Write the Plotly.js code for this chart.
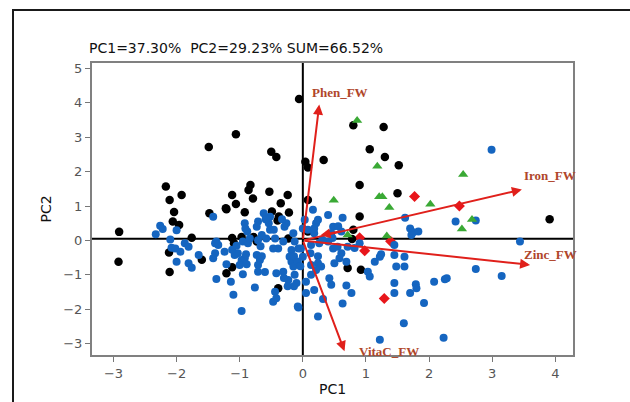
<!DOCTYPE html>
<html>
<head>
<meta charset="utf-8">
<script src="https://cdn.plot.ly/plotly-3.0.1.min.js"></script>
<style>
html,body{margin:0;padding:0;background:#fff;}
#wrap{position:relative;width:630px;height:402px;overflow:hidden;}
#chart{position:absolute;left:0;top:0;width:630px;height:402px;}
#frame{position:absolute;left:12px;top:9px;width:700px;height:500px;border:2px solid #1a1a1a;pointer-events:none;}
</style>
</head>
<body>
<div id="wrap"><div id="chart"></div><div id="frame"></div></div>
<script>
// ---- data ----
const blueX = [-2.26,-2.22,-2.33,-2.00,-2.10,-2.08,-2.02,-1.94,-1.87,-1.81,-2.00,-1.81,-1.76,
 -1.42,-0.92,-0.91,-0.71,-0.73,-0.52,-0.54,-0.52,-0.29,-0.26,-0.15,-1.37,-1.34,-1.39,-0.95,-0.87,-0.84,-0.71,-0.58,-0.44,-0.39,-0.47,-0.31,-0.13,-0.07,-0.18,
 -1.24,-1.39,-1.42,-1.08,-1.03,-0.97,-0.92,-1.00,-0.89,-0.73,-0.68,-0.71,-1.21,-1.65,-1.37,-1.14,-0.95,-0.71,-0.60,-0.42,-0.31,-0.21,-0.18,-0.15,-0.13,-0.23,-0.10,
 -0.76,-0.44,-0.47,-0.42,-1.10,-0.97,-0.07,
 -1.12,-1.05,-0.90,-0.88,-0.62,-0.59,-0.65,-0.67,-0.65,-0.46,-0.33,-0.14,-0.08,-0.04,-0.30,-0.14,-0.24,
 0.16,0.40,0.63,0.03,0.21,0.00,0.08,0.18,0.48,0.61,0.45,0.13,0.26,0.40,0.48,0.55,0.71,0.61,0.58,0.69,-0.03,0.00,0.13,0.24,0.29,0.21,0.13,0.42,0.45,0.05,0.05,0.18,0.32,0.69,0.77,0.63,0.24,
 0.90,1.14,1.22,1.24,1.03,1.06,1.45,1.45,1.48,1.61,1.45,1.45,1.61,1.22,1.60,-0.08,
 0.24,0.18,0.31,0.47,0.56,0.12,0.24,0.50,0.82,
 1.62,1.70,1.75,1.83,1.72,2.42,2.74,3.44,2.74,3.15,2.28,2.25,2.08,1.79,1.80,1.70,1.92,2.23,2.99];
const blueY = [0.43,0.33,0.18,0.30,0.03,-0.21,-0.23,-0.33,-0.08,-0.18,-0.62,-0.66,-0.79,
 0.69,0.50,0.35,0.55,0.40,0.69,0.50,0.31,0.40,0.50,0.21,-0.03,-0.13,-0.08,-0.03,-0.08,0.06,0.01,0.06,0.06,-0.23,-0.23,-0.03,-0.03,-0.23,-0.28,
 -0.33,-0.37,-0.52,-0.42,-0.37,-0.57,-0.52,-0.71,-0.69,-0.42,-0.57,-0.71,-0.69,-0.42,-1.12,-1.20,-0.98,-0.91,-0.92,-0.95,-0.91,-0.47,-0.62,-0.76,-1.00,-1.15,-1.24,
 -1.37,-1.49,-1.78,-1.68,-1.58,-2.05,-1.95,
 -0.27,-0.15,-0.40,0.26,0.79,0.62,0.16,-0.17,-0.46,0.31,0.62,-0.46,-0.61,-0.75,-1.09,-1.33,-1.33,
 0.89,0.74,0.66,0.60,0.50,0.35,0.31,0.35,0.40,0.26,0.21,-0.13,-0.08,-0.03,-0.23,-0.18,-0.18,-0.37,-0.52,-0.62,-0.23,-0.47,-0.71,-0.66,-0.76,-0.86,-1.00,-1.10,-1.29,-1.20,-1.53,-1.44,-1.70,-1.31,-1.53,-1.83,-2.21,
 -0.08,-0.62,-0.47,-0.40,-0.91,-1.05,-0.42,-0.13,-0.76,-0.76,-1.24,-1.53,-0.47,-2.89,-2.41,-1.92,
 0.60,0.21,0.02,0.07,0.41,-0.37,-0.46,-0.66,-0.22,
 0.66,0.35,0.24,0.26,0.16,0.55,0.58,-0.03,-0.83,-1.03,-1.10,-1.13,-1.20,-1.27,-1.39,-1.53,-1.82,-2.83,2.64];

const blackX = [-0.06,-1.06,-1.49,-0.50,-0.42,0.04,0.08,0.33,0.80,1.28,1.06,1.30,1.52,0.90,1.50,0.90,0.80,0.78,0.71,0.92,3.91,0.08,
 -2.17,-2.11,-1.92,-2.04,-2.06,-1.96,-2.91,-2.92,-2.12,-2.11,-1.76,-1.60,-1.48,-1.21,-1.12,-1.06,-0.86,-0.83,-0.79,-0.53,-0.24,-0.35,-0.49,-0.22,-0.92,-0.38,-0.40,
 -1.12,-0.97,-1.09,-1.21,-1.12,-0.39,-0.73,-0.23,0.08,-0.78,-1.22];
const blackY = [4.11,3.09,2.72,2.58,2.43,2.29,2.12,2.34,3.35,3.30,2.65,2.43,2.19,1.61,1.37,0.70,0.31,0.04,-0.80,-0.85,0.62,1.18,
 1.57,1.18,1.32,0.83,0.55,0.45,0.25,-0.62,-0.35,-0.92,0.08,-0.56,0.79,0.91,1.32,1.06,1.47,1.61,1.22,1.42,1.32,1.08,0.84,0.81,0.82,0.70,0.58,
 0.07,0.10,-0.08,-0.95,-0.78,-1.39,-0.03,0.06,0.26,0.10,0.94];

const greenX = [0.86,1.18,2.54,0.49,1.21,1.26,1.37,2.02,2.68,2.52,0.71,1.33];
const greenY = [3.49,2.16,1.92,1.17,1.27,1.27,0.96,1.05,0.61,0.33,0.16,0.13];

const redX = [1.77,2.48,0.98,1.39,1.29,0.90];
const redY = [1.28,1.00,-0.30,-0.02,-1.69,0.08];

const vecNames = ['Phen_FW','Iron_FW','Zinc_FW','VitaC_FW'];
const vecX = [0.26,3.47,3.60,0.66];
const vecY = [3.95,1.48,-0.71,-3.22];

const titleText = 'PC1=37.30%\u00a0 PC2=29.23% SUM=66.52%';
const xTicks = [-3,-2,-1,0,1,2,3,4];
const yTicks = [-3,-2,-1,0,1,2,3,4,5];

// ---- styling ----
const arrowRed = '#e0201b';
const labelColor = '#b0462a';
const labelShift = {
  'Phen_FW':  {xs:-9, ys:12},
  'Iron_FW':  {xs:0,  ys:14},
  'Zinc_FW':  {xs:-8, ys:10},
  'VitaC_FW': {xs:13, ys:0}
};

const traces = [
  {type:'scatter', mode:'markers', x:redX, y:redY, marker:{color:'#e8161b', size:8.5, symbol:'diamond'}, hoverinfo:'skip'},
  {type:'scatter', mode:'markers', x:blackX, y:blackY, marker:{color:'#000', size:8.5}, hoverinfo:'skip'},
  {type:'scatter', mode:'markers', x:blueX, y:blueY, marker:{color:'#1565c0', size:8}, hoverinfo:'skip'},
  {type:'scatter', mode:'markers', x:greenX, y:greenY, marker:{color:'#3aa935', size:9, symbol:'triangle-up'}, hoverinfo:'skip'}
];

const annotations = [];
vecNames.forEach((n,i)=>{
  annotations.push({x:vecX[i], y:vecY[i], ax:0, ay:0, xref:'x', yref:'y', axref:'x', ayref:'y',
    showarrow:true, arrowhead:2, arrowsize:1, arrowwidth:2, arrowcolor:arrowRed, text:''});
  annotations.push({x:vecX[i], y:vecY[i], xref:'x', yref:'y', showarrow:false, text:n,
    xanchor:'left', yanchor:'middle', xshift:labelShift[n].xs, yshift:labelShift[n].ys,
    font:{family:'Liberation Serif', size:13, color:labelColor, weight:'bold'}});
});
// small reversed arrowhead near origin on the Iron_FW line
annotations.push({x:0.28, y:0.15, ax:0.62, ay:0.28, xref:'x', yref:'y', axref:'x', ayref:'y',
  showarrow:true, arrowhead:2, arrowsize:1, arrowwidth:2, arrowcolor:arrowRed, text:''});

const layout = {
  width:630, height:402,
  margin:{l:92, r:57, t:63, b:47},
  paper_bgcolor:'#fff', plot_bgcolor:'#fff',
  showlegend:false,
  font:{family:'DejaVu Sans', size:13, color:'#555'},
  title:{text:titleText, x:89/630, xanchor:'left', xref:'container', y:1-48/402, yanchor:'middle', yref:'container',
    font:{family:'DejaVu Sans', size:14, color:'#111'}},
  xaxis:{range:[-3.34,4.28], tickvals:xTicks, ticks:'outside', ticklen:5, tickcolor:'#777', tickwidth:1,
    showgrid:false, zeroline:false, showline:true, linecolor:'#808080', linewidth:2, mirror:true,
    tickfont:{family:'DejaVu Sans', size:13, color:'#555'},
    title:{text:'PC1', font:{family:'DejaVu Sans', size:14, color:'#111'}, standoff:5}},
  yaxis:{range:[-3.33,5.16], tickvals:yTicks, ticks:'outside', ticklen:5, tickcolor:'#777', tickwidth:1,
    showgrid:false, zeroline:false, showline:true, linecolor:'#808080', linewidth:2, mirror:true,
    tickfont:{family:'DejaVu Sans', size:13, color:'#555'},
    title:{text:'PC2', font:{family:'DejaVu Sans', size:14, color:'#111'}, standoff:8}},
  shapes:[
    {type:'line', xref:'paper', yref:'y', x0:0, x1:1, y0:0.05, y1:0.05, line:{color:'#000', width:2}, layer:'below'},
    {type:'line', xref:'x', yref:'paper', x0:0, x1:0, y0:0, y1:1, line:{color:'#000', width:2}, layer:'below'}
  ],
  annotations:annotations
};

Plotly.newPlot('chart', traces, layout, {staticPlot:true, displayModeBar:false});
</script>
</body>
</html>
